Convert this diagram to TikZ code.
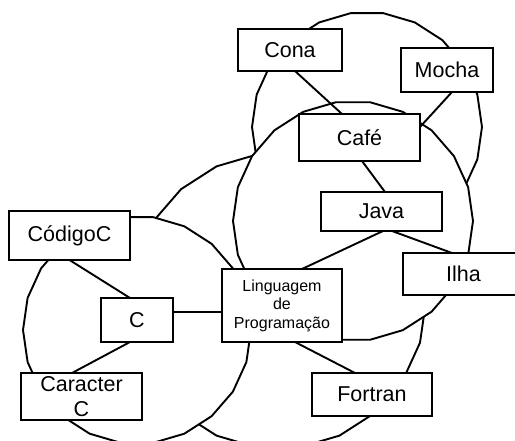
\documentclass[tikz,border=0pt]{standalone}
\usepackage{fontspec}
\setmainfont{Liberation Sans}
\usetikzlibrary{shapes.geometric}
\pgfdeclarelayer{rings}
\pgfdeclarelayer{links}
\pgfsetlayers{rings,links,main}
\begin{document}
\begin{tikzpicture}[x=1pt, y=-1pt,
  ring/.style={regular polygon, regular polygon sides=22, draw=black, fill=white,
    line width=1.9pt, inner sep=0pt, outer sep=0pt, minimum size=#1},
  link/.style={draw=black, line width=1.9pt},
  box/.style={draw=black, fill=white, line width=2pt, inner sep=0pt, outer sep=0pt,
    minimum width=#1, align=center, font=\fontsize{21.5}{25}\selectfont},
  smallbox/.style={box=#1, font=\fontsize{16}{18.5}\selectfont}]

\useasboundingbox (0,0) rectangle (515,441);

% overlapping polygonal rings, each one hiding part of the ones drawn before it
\begin{pgfonlayer}{rings}
\node[ring=230pt] (ringA) at (367,127) {};
\node[ring=296pt] (ringD) at (278,301) {};
\node[ring=240pt] (ringB) at (353,221) {};
\node[ring=228pt] (ringC) at (137,330) {};
\end{pgfonlayer}

% boxes
\node[box=104pt, minimum height=42pt] (cona)    at (290,50)      {Cona};
\node[box=92pt,  minimum height=44pt] (mocha)   at (447,70)      {Mocha};
\node[box=121pt, minimum height=47pt] (cafe)    at (359.5,137.5) {Café};
\node[box=121pt, minimum height=39pt] (java)    at (381.5,211.5) {Java};
\node[box=121pt, minimum height=49pt] (codigo)  at (69.5,235.5)  {CódigoC};
\node[box=121pt, minimum height=42pt] (ilha)    at (463.5,274)   {Ilha};
\node[smallbox=120pt, minimum height=73pt] (lp) at (282,305.5)   {Linguagem\\de\\Programação};
\node[box=72pt,  minimum height=44pt] (c)       at (137,320)     {C};
\node[box=121pt, minimum height=47pt] (car)     at (81.5,396.5)  {Caracter\\C};
\node[box=120pt, minimum height=43pt] (fortran) at (372,394.5)   {Fortran};

% connectors, kept under the boxes and over the rings
\begin{pgfonlayer}{links}
\draw[link] ([xshift=5pt]cona.south)    -- ([xshift=-17.5pt]cafe.north);
\draw[link] ([xshift=5pt]mocha.south)   -- ([yshift=10.5pt]cafe.east);
\draw[link] ([xshift=2.5pt]cafe.south)  -- ([xshift=3.5pt]java.north);
\draw[link] ([xshift=10.5pt]java.south) -- ([xshift=-11.5pt]ilha.north);
\draw[link] ([xshift=1.5pt]java.south)  -- ([xshift=20pt]lp.north);
\draw[link] (codigo.south)              -- ([xshift=-7pt]c.north);
\draw[link] ([yshift=8pt]c.east)        -- ([yshift=-6.5pt]lp.west);
\draw[link] ([xshift=-7pt]c.south)      -- ([xshift=-9.5pt]car.north);
\draw[link] ([xshift=13pt]lp.south)     -- ([xshift=-17pt]fortran.north);
\end{pgfonlayer}
\end{tikzpicture}
\end{document}
